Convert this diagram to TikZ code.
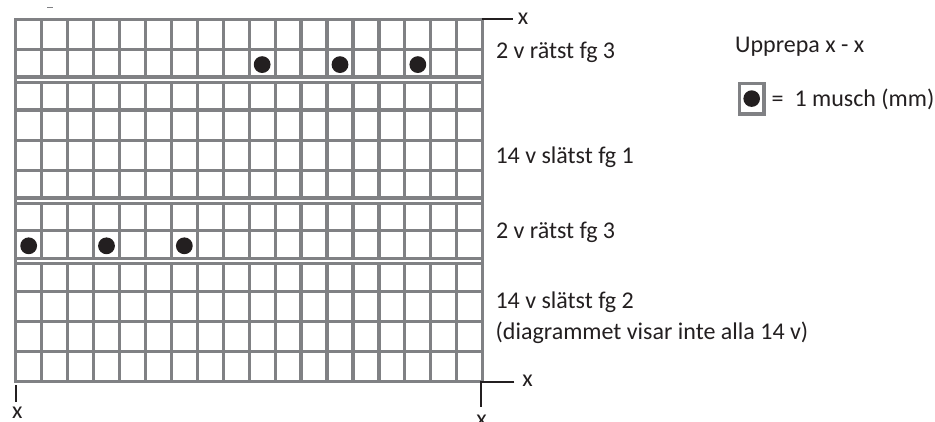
\documentclass[tikz,border=0pt]{standalone}
\usepackage{fontspec}
\setmainfont{Carlito}
\definecolor{gridgray}{RGB}{128,129,132}
\definecolor{ink}{RGB}{35,31,32}
\tikzset{
  gridline/.style={draw=gridgray, line width=3.2pt},
  sepline/.style={draw=gridgray, line width=8.6pt},
  sepwhite/.style={draw=white, line width=2pt},
  dot/.style={fill=ink},
  tickline/.style={draw=ink, line width=2.2pt},
  lbl/.style={inner sep=0pt, anchor=base west, text=ink, font=\fontsize{24}{28}\selectfont},
  xlbl/.style={inner sep=0pt, anchor=base, text=ink, font=\fontsize{24}{28}\selectfont}
}
\begin{document}
\begin{tikzpicture}[x=1pt,y=-1pt]
\useasboundingbox (0,0) rectangle (935,421);
\def\L{15.7}\def\R{482.7}\def\T{19.3}\def\B{381.7}
\def\cw{25.944}\def\rh{30.2}
% inner lines
\foreach \i in {1,...,17} \draw[gridline] ({\L+\i*\cw},\T) -- ({\L+\i*\cw},\B);
\foreach \j in {1,...,11} \draw[gridline] (\L,{\T+\j*\rh}) -- (\R,{\T+\j*\rh});
% section separators
\foreach \j in {2,6,8} {
  \draw[sepline] (\L,{\T+\j*\rh}) -- (\R,{\T+\j*\rh});
  \draw[sepwhite] ({\L+1.6},{\T+\j*\rh}) -- ({\R-1.6},{\T+\j*\rh});
}
% outer border
\draw[gridline] (\L,\T) rectangle (\R,\B);
% dots
\foreach \c in {9,12,15} \fill[dot] ({\L+(\c+0.5)*\cw},{\T+1.5*\rh}) circle (8.4);
\foreach \c in {0,3,6} \fill[dot] ({\L+(\c+0.5)*\cw},{\T+7.5*\rh}) circle (8.4);
% repeat marks
\coordinate (tr) at (481.7,18.8);
\coordinate (tre) at (513,18.8);
\draw[tickline] (tr) -- (tre);
\node[xlbl] (xtr) at (523,24) {x};
\coordinate (br) at (481,381.7);
\coordinate (brr) at (514.3,381.7);
\coordinate (brd) at (481,406.7);
\draw[tickline] (brr) -- (br) -- (brd);
\node[xlbl] (xbr) at (527.5,386.7) {x};
\node[xlbl] (xbb) at (481.5,426) {x};
\coordinate (bl) at (15.7,385);
\coordinate (bld) at (15.7,401.7);
\draw[tickline] (bl) -- (bld);
\node[xlbl] (xbl) at (17.2,418.5) {x};
% tiny dash top-left
\draw[gridgray, line width=0.8pt] (47.3,7.3) -- (52.7,7.3);
% labels
\node[lbl] (t1) at (495.8,58.3) {2 v rätst fg 3};
\node[lbl] (t2) at (495.3,163.3) {14 v slätst fg 1};
\node[lbl] (t3) at (495.8,238.3) {2 v rätst fg 3};
\node[lbl] (t4) at (495.3,308.3) {14 v slätst fg 2};
\node[lbl] (t5) at (495.5,339.3) {(diagrammet visar inte alla 14 v)};
\node[lbl] (t6) at (735,52.5) {Upprepa x - x};
% legend
\draw[draw=gridgray, line width=3.5pt] (739.5,83.5) rectangle (764,114.2);
\fill[dot] (751.7,98.6) circle (8.3);
\node[lbl] (t7) at (771.5,106.7) {=\ \ 1 musch (mm)};
\end{tikzpicture}
\end{document}
